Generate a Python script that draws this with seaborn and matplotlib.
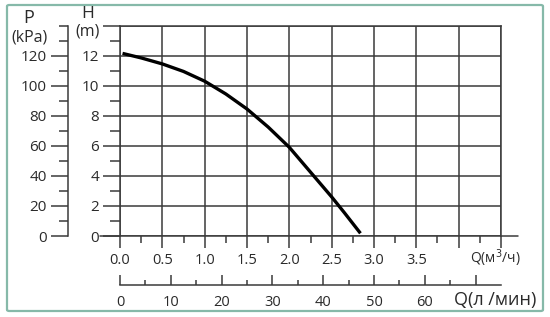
import numpy as np
import pandas as pd
import matplotlib
matplotlib.use("Agg")
import matplotlib.pyplot as plt
from matplotlib.patches import FancyBboxPatch
import seaborn as sns

# ---- data ----
flow_m3h = [0.03, 0.25, 0.5, 0.75, 1.0, 1.25, 1.5, 1.75, 2.0, 2.25, 2.5, 2.65, 2.84]
head_m = [12.15, 11.85, 11.45, 10.95, 10.3, 9.45, 8.45, 7.25, 5.9, 4.25, 2.6, 1.55, 0.18]

q_ticks = [0.0, 0.5, 1.0, 1.5, 2.0, 2.5, 3.0, 3.5, 4.0, 4.5]
q_labels = ["0.0", "0.5", "1.0", "1.5", "2.0", "2.5", "3.0", "3.5", "", ""]
h_ticks = [0, 2, 4, 6, 8, 10, 12, 14]
h_labels = ["0", "2", "4", "6", "8", "10", "12", ""]
p_ticks = [0, 20, 40, 60, 80, 100, 120]
p_labels = ["0", "20", "40", "60", "80", "100", "120"]
lmin_ticks = [0, 10, 20, 30, 40, 50, 60, 70]
lmin_labels = ["0", "10", "20", "30", "40", "50", "60", ""]

df = pd.DataFrame({"Q": flow_m3h, "H": head_m})

sns.set_style("white")
plt.rcParams["font.family"] = ["Open Sans", "DejaVu Sans"]

W, Hpx = 550, 317
fig = plt.figure(figsize=(5.5, 3.17), dpi=100)

def fx(px):
    return px / W

def fy(py):
    return 1 - py / Hpx

line_c = "#3a3a3a"
txt_c = "#2a2a2a"
lw = 1.1

# main grid axes
left, right, top, bottom = 120, 501, 25.6, 236
ax = fig.add_axes([fx(left), fy(bottom), fx(right - left), (bottom - top) / Hpx])
ax.set_xlim(0, 4.5)
ax.set_ylim(0, 14)
ax.set_facecolor("none")
sns.lineplot(data=df, x="Q", y="H", ax=ax, color="black", linewidth=2.4,
             sort=False, solid_capstyle="butt")
ax.set_xlabel("")
ax.set_ylabel("")
ax.set_xticks(q_ticks)
ax.set_xticklabels(q_labels)
ax.set_xticks(np.arange(0.25, 4.5, 0.5), minor=True)
ax.set_yticks(h_ticks)
ax.set_yticklabels(h_labels)
ax.set_yticks(np.arange(1, 14, 2), minor=True)
ax.grid(True, which="major", color=line_c, linewidth=lw)
for s in ["left", "top", "right"]:
    ax.spines[s].set_color(line_c)
    ax.spines[s].set_linewidth(lw)
ax.spines["bottom"].set_visible(False)
ax.axhline(0, xmin=-20 / 381, xmax=(518 - 120) / 381, color=line_c,
           linewidth=lw, clip_on=False)
ax.tick_params(axis="x", which="major", direction="out", length=8.6, width=lw,
               color=line_c, pad=3.4, labelsize=10.5, labelcolor=txt_c, bottom=True)
ax.tick_params(axis="x", which="minor", direction="out", length=5, width=lw,
               color=line_c, bottom=True)
ax.tick_params(axis="y", which="major", direction="out", length=12.2, width=lw,
               color=line_c, pad=2.9, labelsize=11, labelcolor=txt_c, left=True)
ax.tick_params(axis="y", which="minor", direction="out", length=7.2, width=lw,
               color=line_c, left=True)
fig.text(fx(495), fy(258), "Q(м$^3$/ч)", ha="center", va="center",
         fontsize=10, color=txt_c)

# P axis
pax = fig.add_axes([fx(68), fy(bottom), 0.0005, (bottom - top) / Hpx])
pax.set_ylim(0, 140)
pax.set_xticks([])
pax.set_facecolor("none")
for s in ["top", "right", "bottom"]:
    pax.spines[s].set_visible(False)
pax.spines["left"].set_color(line_c)
pax.spines["left"].set_linewidth(lw)
pax.set_yticks(p_ticks)
pax.set_yticklabels(p_labels)
pax.set_yticks([10, 30, 50, 70, 90, 110, 130, 140], minor=True)
pax.tick_params(axis="y", which="major", direction="out", length=12.5, width=lw,
                color=line_c, pad=2.9, labelsize=11, labelcolor=txt_c, left=True)
pax.tick_params(axis="y", which="minor", direction="out", length=6.5, width=lw,
                color=line_c, left=True)

# second flow axis (l/min)
qax = fig.add_axes([fx(left), fy(285), fx(right - left), 0.0005])
qax.set_xlim(0, 75)
qax.set_yticks([])
qax.set_facecolor("none")
for s in ["top", "right", "left"]:
    qax.spines[s].set_visible(False)
qax.spines["bottom"].set_color(line_c)
qax.spines["bottom"].set_linewidth(lw)
qax.set_xticks(lmin_ticks)
qax.set_xticklabels(lmin_labels)
qax.set_xticks(np.arange(5, 70, 10), minor=True)
qax.tick_params(axis="x", which="major", direction="in", length=7.2, width=lw,
                color=line_c, pad=7.0, labelsize=10.5, labelcolor=txt_c, bottom=True)
qax.tick_params(axis="x", which="minor", direction="in", length=3.8, width=lw,
                color=line_c, bottom=True)
fig.text(fx(495), fy(300), "Q(л /мин)", ha="center", va="center",
         fontsize=13, color=txt_c)

# axis titles
fig.text(fx(29), fy(18), "P", ha="center", va="center", fontsize=13, color=txt_c)
fig.text(fx(29), fy(37), "(kPa)", ha="center", va="center", fontsize=11.5, color=txt_c)
fig.text(fx(88), fy(14), "H", ha="center", va="center", fontsize=12.5, color=txt_c)
fig.text(fx(88), fy(32), "(m)", ha="center", va="center", fontsize=11.5, color=txt_c)

# frame
frame = FancyBboxPatch((fx(7), fy(311)), fx(536), (311 - 5) / Hpx,
                       boxstyle="round,pad=0,rounding_size=0.004",
                       transform=fig.transFigure, facecolor="none",
                       edgecolor="#86b9a9", linewidth=1.6, zorder=-1)
fig.patches.append(frame)

fig.savefig("out.png", dpi=100)
